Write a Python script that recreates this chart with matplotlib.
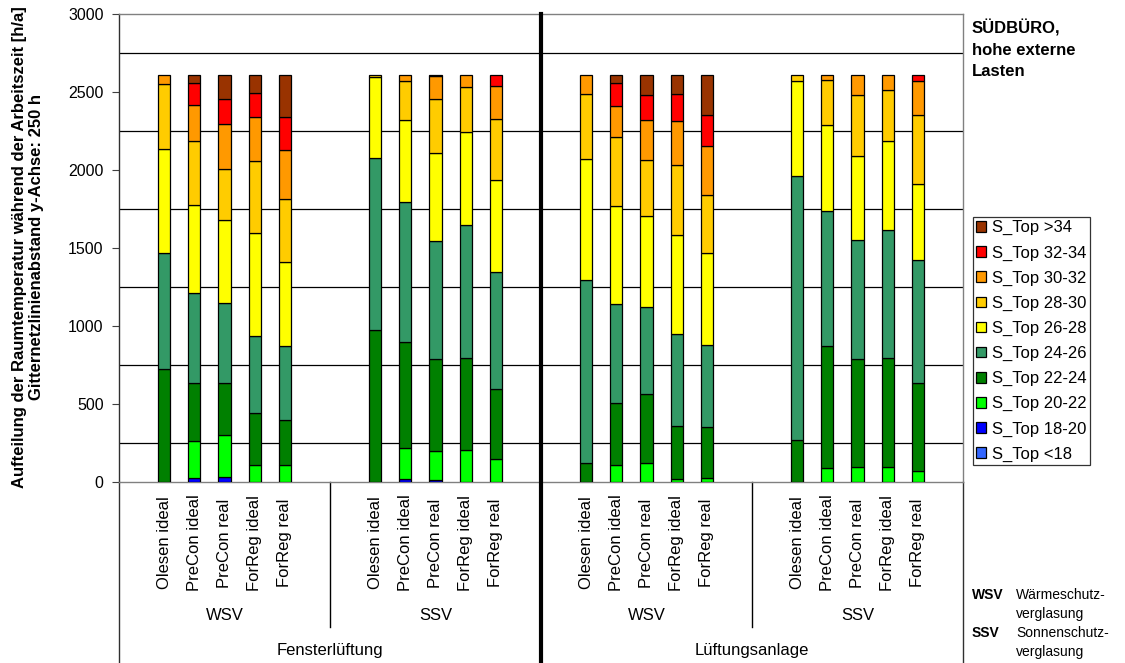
import matplotlib
matplotlib.use("Agg")
import matplotlib.pyplot as plt
import matplotlib.transforms as mtrans
from matplotlib.patches import Patch
from matplotlib.ticker import FixedLocator

plt.rcParams['font.family'] = ['Liberation Sans', 'DejaVu Sans']

# Control strategies, glazing types and ventilation modes
variants = ['Olesen ideal', 'PreCon ideal', 'PreCon real', 'ForReg ideal', 'ForReg real']
glazing = ['WSV', 'SSV']
ventilation = ['Fensterlüftung', 'Lüftungsanlage']

# Temperature bands (bottom to top of each stack)
bands = ['S_Top <18', 'S_Top 18-20', 'S_Top 20-22', 'S_Top 22-24', 'S_Top 24-26',
         'S_Top 26-28', 'S_Top 28-30', 'S_Top 30-32', 'S_Top 32-34', 'S_Top >34']
band_colors = ['#3366FF', '#0000FF', '#00FF00', '#008000', '#339966',
               '#FFFF00', '#FFCC00', '#FF9900', '#FF0000', '#993300']

# Hours per year in each band; order: Fenster-WSV, Fenster-SSV, Anlage-WSV, Anlage-SSV
t_lt18 = [0, 0, 0, 0, 0, 0, 0, 0, 0, 0, 0, 0, 0, 0, 0, 0, 0, 0, 0, 0]
t_18_20 = [0, 28, 30, 0, 0, 0, 17, 10, 0, 0, 0, 0, 0, 0, 0, 0, 0, 0, 0, 0]
t_20_22 = [0, 235, 273, 111, 107, 0, 199, 186, 203, 147, 0, 109, 122, 21, 23, 0, 92, 98, 96, 68]
t_22_24 = [726, 373, 331, 331, 288, 976, 679, 592, 591, 449, 124, 399, 444, 336, 329, 271, 781, 692, 700, 568]
t_24_26 = [743, 575, 515, 497, 476, 1099, 901, 760, 852, 747, 1170, 636, 553, 589, 525, 1689, 863, 764, 818, 790]
t_26_28 = [666, 567, 533, 656, 542, 523, 523, 564, 596, 596, 775, 628, 587, 638, 590, 613, 551, 538, 574, 487]
t_28_30 = [416, 410, 323, 463, 402, 13, 249, 345, 288, 388, 416, 438, 361, 451, 371, 38, 288, 387, 323, 438]
t_30_32 = [60, 227, 290, 284, 316, 0, 43, 146, 81, 212, 126, 198, 252, 279, 314, 0, 36, 132, 100, 217]
t_32_34 = [0, 145, 162, 154, 207, 0, 0, 8, 0, 72, 0, 152, 162, 175, 203, 0, 0, 0, 0, 43]
t_gt34 = [0, 51, 154, 115, 273, 0, 0, 0, 0, 0, 0, 51, 130, 122, 256, 0, 0, 0, 0, 0]

series = [t_lt18, t_18_20, t_20_22, t_22_24, t_24_26, t_26_28, t_28_30, t_30_32, t_32_34, t_gt34]

y_ticks = [0, 500, 1000, 1500, 2000, 2500, 3000]

W, H = 1125, 663
fig = plt.figure(figsize=(W / 100, H / 100), dpi=100)
ax = fig.add_axes([119 / W, 1 - 482 / H, (963 - 119) / W, (482 - 14) / H])

n_groups = 4
slot = 7  # five bars plus one free slot on each side
xpos = [g * slot + i for g in range(n_groups) for i in range(len(variants))]

bottom = [0] * len(xpos)
for vals, col in zip(series, band_colors):
    xs = [x for x, v in zip(xpos, vals) if v > 0]
    hs = [v for v in vals if v > 0]
    bs = [b for b, v in zip(bottom, vals) if v > 0]
    if xs:
        ax.bar(xs, hs, width=0.4, bottom=bs, color=col, edgecolor='black',
               linewidth=0.9, zorder=3)
    bottom = [b + v for b, v in zip(bottom, vals)]

ax.set_xlim(-1.5, n_groups * slot - 1.5)
ax.set_ylim(0, 3000)
ax.set_xticks([])
ax.set_yticks(y_ticks)
ax.set_yticklabels([str(t) for t in y_ticks], fontsize=11.5)
ax.yaxis.set_minor_locator(FixedLocator(list(range(250, 3000, 250))))
ax.tick_params(axis='y', which='major', direction='out', length=5, width=0.8, pad=6, color='#404040')
ax.tick_params(axis='y', which='minor', length=0)
ax.grid(False)
ax.grid(axis='y', which='minor', color='black', linewidth=0.9, zorder=1)
ax.set_axisbelow(True)
for side in ['top', 'right', 'bottom']:
    ax.spines[side].set_color('#808080')
    ax.spines[side].set_linewidth(1.0)
ax.spines['left'].set_color('#303030')
ax.spines['left'].set_linewidth(1.0)

# Category table below the plot
label_bottom = -(663 - 482) / (482 - 14)
divider_bottom = -(627 - 482) / (482 - 14)
for xv in [-1.5, n_groups * slot - 1.5]:
    ax.axvline(xv, ymin=label_bottom, ymax=0, color='#303030', linewidth=1.0, clip_on=False)
for g in [1, 3]:
    ax.axvline(g * slot - 1.5, ymin=divider_bottom, ymax=0, color='black', linewidth=1.0, clip_on=False)
ax.axvline(2 * slot - 1.5, ymin=label_bottom, ymax=1, color='black', linewidth=3.0,
           clip_on=False, zorder=5)

tr = mtrans.blended_transform_factory(ax.transData, fig.transFigure)
def fy(px):
    return 1 - px / H

for x, name in zip(xpos, variants * n_groups):
    ax.text(x, fy(543), name, rotation=90, ha='center', va='center', fontsize=12,
            transform=tr)
for g in range(n_groups):
    ax.text(g * slot + 2, fy(615), glazing[g % 2], ha='center', va='center',
            fontsize=12, transform=tr)
for k, name in enumerate(ventilation):
    ax.text(k * 2 * slot + slot - 1.5, fy(650), name, ha='center', va='center',
            fontsize=12, transform=tr)

# Axis title
fig.text(28 / W, fy(247),
         'Aufteilung der Raumtemperatur während der Arbeitszeit [h/a]\n'
         'Gitternetzlinienabstand y-Achse: 250 h',
         rotation=90, ha='center', va='center', fontsize=12, fontweight='bold',
         multialignment='center', linespacing=1.2)

# Heading at the right
fig.text(972 / W, fy(19), 'SÜDBÜRO,\nhohe externe\nLasten', ha='left', va='top',
         fontsize=12, fontweight='bold', linespacing=1.55)

# Legend (top band first)
handles = [Patch(facecolor=c, edgecolor='black', linewidth=0.9) for c in band_colors][::-1]
leg = fig.legend(handles, bands[::-1], loc='upper left',
                 bbox_to_anchor=(973 / W, fy(217)), fontsize=12, frameon=True,
                 fancybox=False, edgecolor='black', handlelength=0.6, handleheight=0.6,
                 handletextpad=0.35, labelspacing=0.6, borderpad=0.2, borderaxespad=0)
leg.get_frame().set_linewidth(0.9)

# Glazing abbreviations
notes = [(595, 'WSV', 'Wärmeschutz-'), (614, '', 'verglasung'),
         (633, 'SSV', 'Sonnenschutz-'), (652, '', 'verglasung')]
for y, abbr, txt in notes:
    if abbr:
        fig.text(972 / W, fy(y), abbr, ha='left', va='center', fontsize=10, fontweight='bold')
    fig.text(1016 / W, fy(y), txt, ha='left', va='center', fontsize=10)

fig.savefig('out.png', dpi=100)
